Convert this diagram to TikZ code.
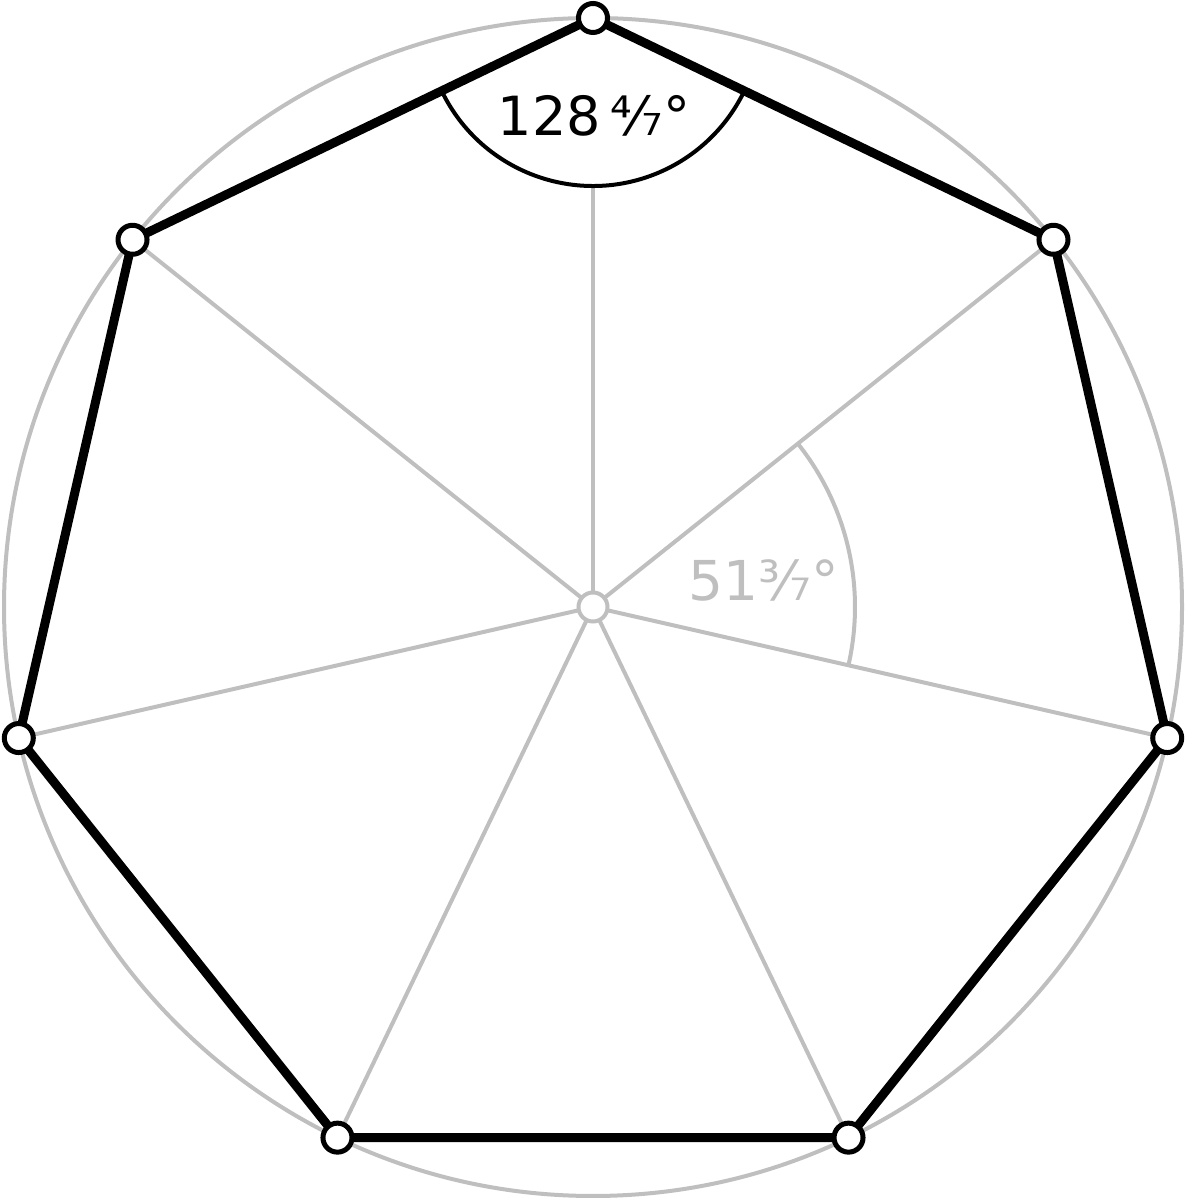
\documentclass[tikz,border=0pt]{standalone}
\usepackage{fontspec}
\setmainfont{DejaVu Sans}
\usepackage{tikz}

\definecolor{spokegray}{RGB}{191,191,191}

\tikzset{
  spoke/.style={draw=spokegray, line width=4pt},
  side/.style={draw=black, line width=9pt},
  vertex/.style={circle, draw=black, fill=white, line width=5pt, minimum size=29pt, inner sep=0pt},
  hub/.style={circle, draw=spokegray, fill=white, line width=4pt, minimum size=29pt, inner sep=0pt},
}

\begin{document}
\begin{tikzpicture}[x=1pt,y=1pt]
    \useasboundingbox (0,0) rectangle (1186,1200);
    \coordinate (c) at (593,593);
    \foreach \i in {1,...,7}
      \coordinate (p\i) at ([shift={({90-(\i-1)*360/7}:589)}]c);
    \coordinate (arcfoot) at ([shift={(270:168)}]p1);
    \draw[spoke] (c) circle (589);
    \draw[spoke] (c) -- (arcfoot);
    \foreach \i in {2,...,7}
      \draw[spoke] (c) -- (p\i);
    \draw[spoke] ([shift={(-12.857:262)}]c) arc (-12.857:38.571:262);
    \draw[line width=4pt] ([shift={(205.714:168)}]p1) arc (205.714:334.286:168);
    \draw[side] (p1) -- (p2) -- (p3) -- (p4) -- (p5) -- (p6) -- (p7) -- cycle;
    \foreach \i in {1,...,7}
      \node[vertex] (v\i) at (p\i) {};
    \node[hub] (hub) at (c) {};
    \node[font=\fontsize{54}{60}\selectfont] (inner) at (594,1084) {128\kern10pt⁴⁄₇°};
    \node[font=\fontsize{55}{60}\selectfont, text=spokegray] (central) at (764,620) {51³⁄₇°};
  \end{tikzpicture}
\end{document}
